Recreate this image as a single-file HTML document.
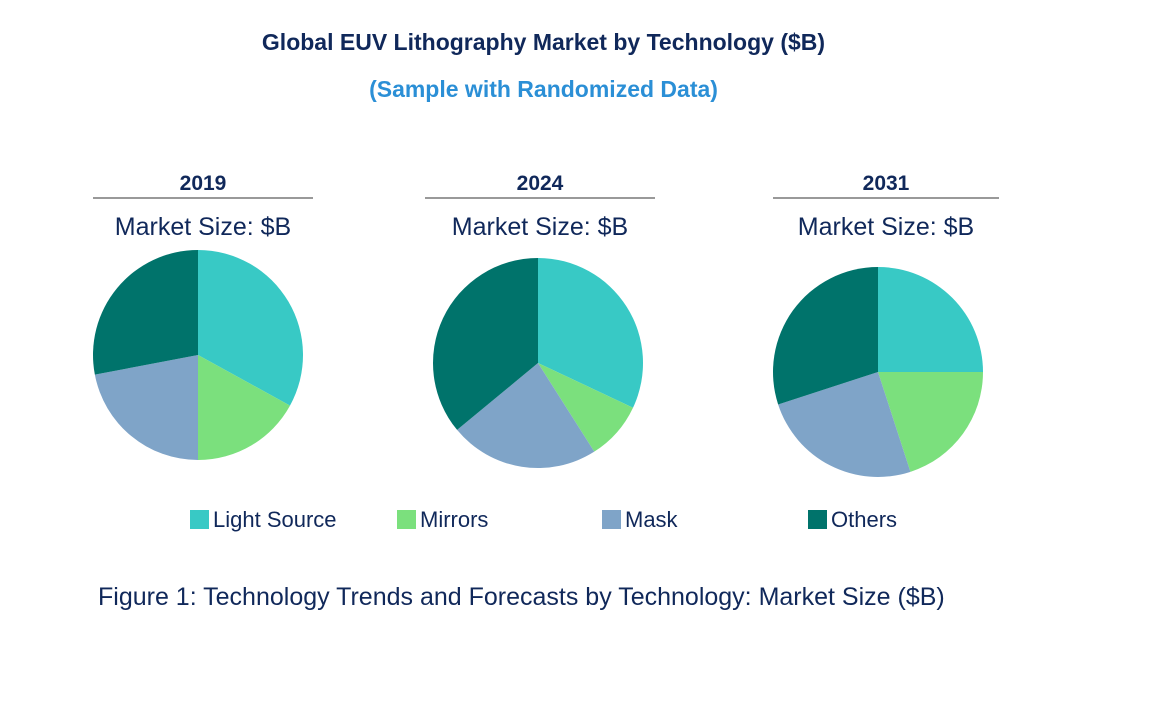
<!DOCTYPE html>
<html><head><meta charset="utf-8"><style>
body{margin:0;width:1155px;height:711px;background:#fff;font-family:"Liberation Sans",Arial,sans-serif;position:relative;overflow:hidden}
.t{position:absolute;white-space:nowrap}
</style></head><body>
<div class="t" style="left:0;width:1087px;text-align:center;top:29px;font-size:23px;font-weight:bold;color:#10285a">Global EUV Lithography Market by Technology ($B)</div>
<div class="t" style="left:0;width:1087px;text-align:center;top:76px;font-size:23px;font-weight:bold;color:#2b8fd6">(Sample with Randomized Data)</div>
<svg id="c" width="1155" height="711" style="position:absolute;left:0;top:0"></svg>
<div class="t" style="left:98px;top:583px;font-size:25px;color:#10285a">Figure 1: Technology Trends and Forecasts by Technology: Market Size ($B)</div>
<script>
const years=["2019","2024","2031"];
const categories=["Light Source","Mirrors","Mask","Others"];
const colors=["#38c9c5","#7be07d","#7fa4c8","#00736b"];
const v2019=[33,17,22,28];
const v2024=[32,9,23,36];
const v2031=[25,20,25,30];
const series=[v2019,v2024,v2031];
const NS="http://www.w3.org/2000/svg";
const svg=document.getElementById("c");
const cx=[198,538,878],cy=[355,363,372],R=105;
const hx=[[93,313],[425,655],[773,999]],hy=[198,198,198];
function mk(t,a){const e=document.createElementNS(NS,t);for(const k in a)e.setAttribute(k,a[k]);svg.appendChild(e);return e;}
years.forEach((y,i)=>{
  const t=mk("text",{x:(hx[i][0]+hx[i][1])/2,y:190,"text-anchor":"middle","font-size":"21","font-weight":"bold",fill:"#10285a"});
  t.textContent=y;
  
  
  const l=mk("line",{x1:hx[i][0],x2:hx[i][1],y1:hy[i],y2:hy[i],stroke:"#333","stroke-width":"1"});
  
  
  const m=mk("text",{x:(hx[i][0]+hx[i][1])/2,y:235,"text-anchor":"middle","font-size":"25",fill:"#10285a"});
  m.textContent="Market Size: $B";
  
  
  const vals=series[i];const tot=vals.reduce((a,b)=>a+b,0);let a0=0;
  vals.forEach((v,j)=>{
    const a1=a0+v/tot*2*Math.PI;
    const x0=cx[i]+R*Math.sin(a0),y0=cy[i]-R*Math.cos(a0),x1=cx[i]+R*Math.sin(a1),y1=cy[i]-R*Math.cos(a1);
    const p=mk("path",{d:`M${cx[i]},${cy[i]}L${x0},${y0}A${R},${R} 0 ${a1-a0>Math.PI?1:0} 1 ${x1},${y1}Z`,fill:colors[j]});
    
    
    a0=a1;
  });
});
const lx=[190,397,602,808];
categories.forEach((c,j)=>{
  const r=mk("rect",{x:lx[j],y:510,width:19,height:19,fill:colors[j]});
  
  
  const t=mk("text",{x:lx[j]+23,y:527,"font-size":"22",fill:"#10285a"});
  t.textContent=c;
  
  
});
</script>
</body></html>
